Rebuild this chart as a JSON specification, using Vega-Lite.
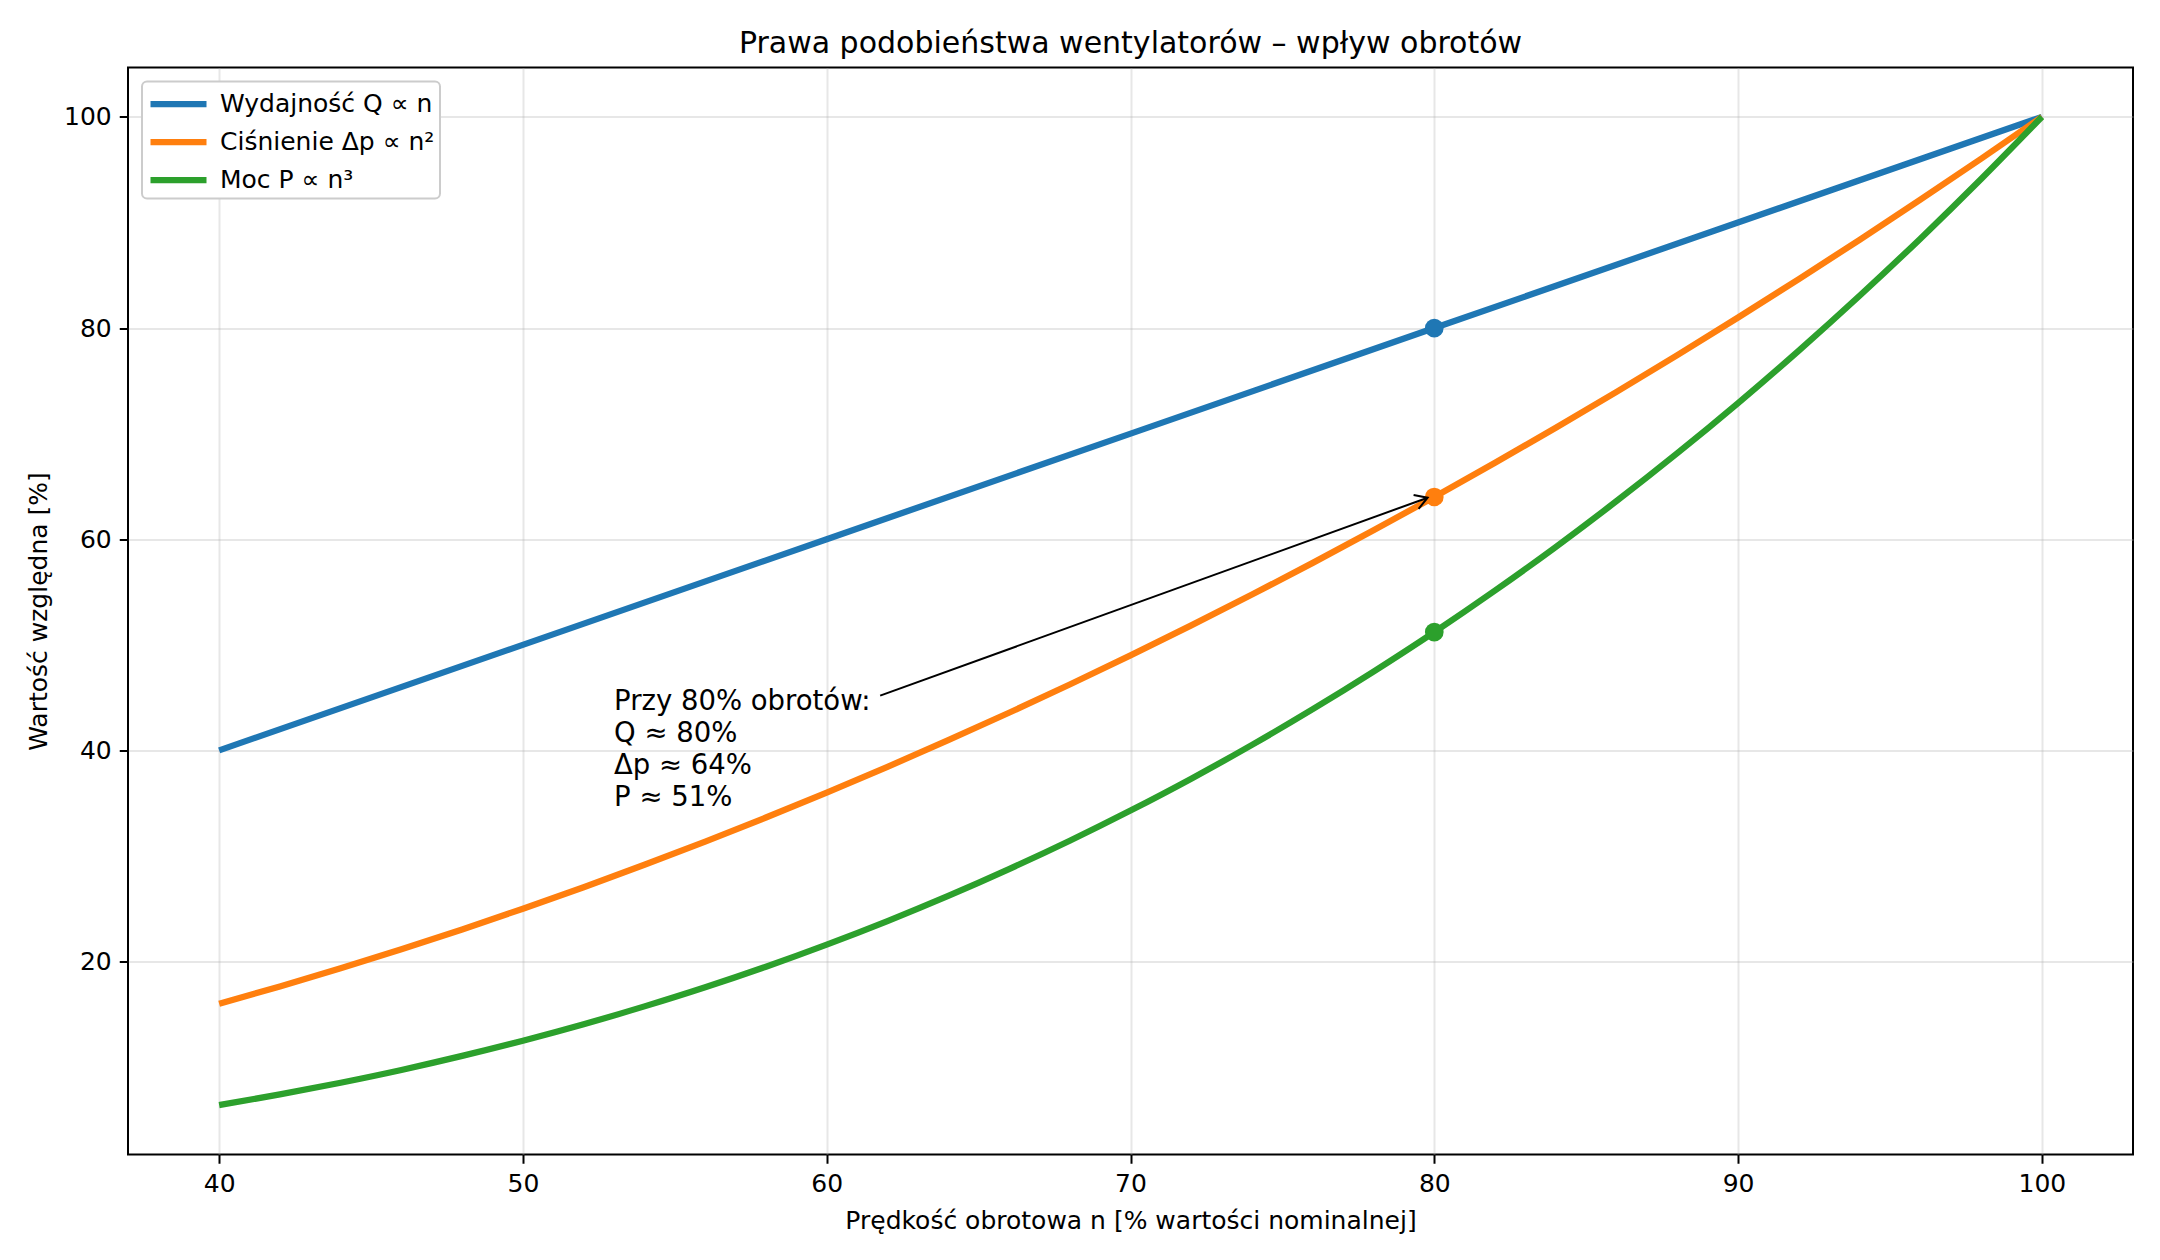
{
  "$schema": "https://vega.github.io/schema/vega-lite/v6.json",
  "width": 2005,
  "height": 1087,
  "autosize": "none",
  "padding": {"left": 128, "top": 67.5, "right": 27, "bottom": 105.5},
  "background": "white",
  "title": {
    "text": "Prawa podobieństwa wentylatorów – wpływ obrotów",
    "font": "DejaVu Sans",
    "fontSize": 30,
    "fontWeight": "normal",
    "color": "black",
    "anchor": "middle",
    "offset": 9
  },
  "config": {
    "view": {"stroke": "black", "strokeWidth": 2},
    "axis": {
      "domain": false,
      "grid": true,
      "gridColor": "#b0b0b0",
      "gridOpacity": 0.3,
      "gridWidth": 2,
      "tickColor": "black",
      "tickSize": 8.75,
      "tickWidth": 2,
      "labelFont": "DejaVu Sans",
      "labelFontSize": 25,
      "labelColor": "black",
      "labelPadding": 8,
      "titleFont": "DejaVu Sans",
      "titleFontSize": 25,
      "titleFontWeight": "normal",
      "titleColor": "black"
    },
    "legend": {
      "orient": "top-left",
      "offset": 14,
      "fillColor": "white",
      "strokeColor": "#cccccc",
      "strokeWidth": 2,
      "cornerRadius": 5,
      "padding": 5,
      "labelFont": "DejaVu Sans",
      "labelFontSize": 25,
      "labelColor": "black",
      "labelLimit": 0,
      "symbolType": "M-1,0H3",
      "symbolStrokeWidth": 6.25,
      "symbolSize": 784,
      "labelOffset": 38,
      "rowPadding": 7
    }
  },
  "datasets": {
    "curves": [
      {"n": 40, "series": "Wydajność Q ∝ n", "v": 40},
      {"n": 60, "series": "Wydajność Q ∝ n", "v": 60},
      {"n": 80, "series": "Wydajność Q ∝ n", "v": 80},
      {"n": 100, "series": "Wydajność Q ∝ n", "v": 100},
      {"n": 40, "series": "Ciśnienie Δp ∝ n²", "v": 16},
      {"n": 42, "series": "Ciśnienie Δp ∝ n²", "v": 17.64},
      {"n": 44, "series": "Ciśnienie Δp ∝ n²", "v": 19.36},
      {"n": 46, "series": "Ciśnienie Δp ∝ n²", "v": 21.16},
      {"n": 48, "series": "Ciśnienie Δp ∝ n²", "v": 23.04},
      {"n": 50, "series": "Ciśnienie Δp ∝ n²", "v": 25},
      {"n": 52, "series": "Ciśnienie Δp ∝ n²", "v": 27.04},
      {"n": 54, "series": "Ciśnienie Δp ∝ n²", "v": 29.16},
      {"n": 56, "series": "Ciśnienie Δp ∝ n²", "v": 31.36},
      {"n": 58, "series": "Ciśnienie Δp ∝ n²", "v": 33.64},
      {"n": 60, "series": "Ciśnienie Δp ∝ n²", "v": 36},
      {"n": 62, "series": "Ciśnienie Δp ∝ n²", "v": 38.44},
      {"n": 64, "series": "Ciśnienie Δp ∝ n²", "v": 40.96},
      {"n": 66, "series": "Ciśnienie Δp ∝ n²", "v": 43.56},
      {"n": 68, "series": "Ciśnienie Δp ∝ n²", "v": 46.24},
      {"n": 70, "series": "Ciśnienie Δp ∝ n²", "v": 49},
      {"n": 72, "series": "Ciśnienie Δp ∝ n²", "v": 51.84},
      {"n": 74, "series": "Ciśnienie Δp ∝ n²", "v": 54.76},
      {"n": 76, "series": "Ciśnienie Δp ∝ n²", "v": 57.76},
      {"n": 78, "series": "Ciśnienie Δp ∝ n²", "v": 60.84},
      {"n": 80, "series": "Ciśnienie Δp ∝ n²", "v": 64},
      {"n": 82, "series": "Ciśnienie Δp ∝ n²", "v": 67.24},
      {"n": 84, "series": "Ciśnienie Δp ∝ n²", "v": 70.56},
      {"n": 86, "series": "Ciśnienie Δp ∝ n²", "v": 73.96},
      {"n": 88, "series": "Ciśnienie Δp ∝ n²", "v": 77.44},
      {"n": 90, "series": "Ciśnienie Δp ∝ n²", "v": 81},
      {"n": 92, "series": "Ciśnienie Δp ∝ n²", "v": 84.64},
      {"n": 94, "series": "Ciśnienie Δp ∝ n²", "v": 88.36},
      {"n": 96, "series": "Ciśnienie Δp ∝ n²", "v": 92.16},
      {"n": 98, "series": "Ciśnienie Δp ∝ n²", "v": 96.04},
      {"n": 100, "series": "Ciśnienie Δp ∝ n²", "v": 100},
      {"n": 40, "series": "Moc P ∝ n³", "v": 6.4},
      {"n": 42, "series": "Moc P ∝ n³", "v": 7.41},
      {"n": 44, "series": "Moc P ∝ n³", "v": 8.52},
      {"n": 46, "series": "Moc P ∝ n³", "v": 9.73},
      {"n": 48, "series": "Moc P ∝ n³", "v": 11.06},
      {"n": 50, "series": "Moc P ∝ n³", "v": 12.5},
      {"n": 52, "series": "Moc P ∝ n³", "v": 14.06},
      {"n": 54, "series": "Moc P ∝ n³", "v": 15.75},
      {"n": 56, "series": "Moc P ∝ n³", "v": 17.56},
      {"n": 58, "series": "Moc P ∝ n³", "v": 19.51},
      {"n": 60, "series": "Moc P ∝ n³", "v": 21.6},
      {"n": 62, "series": "Moc P ∝ n³", "v": 23.83},
      {"n": 64, "series": "Moc P ∝ n³", "v": 26.21},
      {"n": 66, "series": "Moc P ∝ n³", "v": 28.75},
      {"n": 68, "series": "Moc P ∝ n³", "v": 31.44},
      {"n": 70, "series": "Moc P ∝ n³", "v": 34.3},
      {"n": 72, "series": "Moc P ∝ n³", "v": 37.32},
      {"n": 74, "series": "Moc P ∝ n³", "v": 40.52},
      {"n": 76, "series": "Moc P ∝ n³", "v": 43.9},
      {"n": 78, "series": "Moc P ∝ n³", "v": 47.46},
      {"n": 80, "series": "Moc P ∝ n³", "v": 51.2},
      {"n": 82, "series": "Moc P ∝ n³", "v": 55.14},
      {"n": 84, "series": "Moc P ∝ n³", "v": 59.27},
      {"n": 86, "series": "Moc P ∝ n³", "v": 63.61},
      {"n": 88, "series": "Moc P ∝ n³", "v": 68.15},
      {"n": 90, "series": "Moc P ∝ n³", "v": 72.9},
      {"n": 92, "series": "Moc P ∝ n³", "v": 77.87},
      {"n": 94, "series": "Moc P ∝ n³", "v": 83.06},
      {"n": 96, "series": "Moc P ∝ n³", "v": 88.47},
      {"n": 98, "series": "Moc P ∝ n³", "v": 94.12},
      {"n": 100, "series": "Moc P ∝ n³", "v": 100}
    ],
    "marks80": [
      {"n": 80, "series": "Wydajność Q ∝ n", "v": 80},
      {"n": 80, "series": "Ciśnienie Δp ∝ n²", "v": 64},
      {"n": 80, "series": "Moc P ∝ n³", "v": 51.2}
    ],
    "note": [
      {"x": 53, "y": 35, "x0": 61.76, "y0": 45.18, "x1": 79.78, "y1": 63.93,
       "label": "Przy 80% obrotów:\nQ ≈ 80%\nΔp ≈ 64%\nP ≈ 51%"}
    ]
  },
  "resolve": {"legend": {"color": "independent"}},
  "layer": [
    {
      "data": {"name": "curves"},
      "mark": {"type": "line", "strokeWidth": 6.25, "interpolate": "monotone", "clip": true},
      "encoding": {
        "x": {
          "field": "n", "type": "quantitative",
          "scale": {"domain": [37, 103], "nice": false, "zero": false},
          "axis": {"values": [40, 50, 60, 70, 80, 90, 100], "title": "Prędkość obrotowa n [% wartości nominalnej]", "titlePadding": 12}
        },
        "y": {
          "field": "v", "type": "quantitative",
          "scale": {"domain": [1.72, 104.68], "nice": false, "zero": false},
          "axis": {"values": [20, 40, 60, 80, 100], "title": "Wartość względna [%]", "titlePadding": 12}
        },
        "color": {
          "field": "series", "type": "nominal",
          "scale": {
            "domain": ["Wydajność Q ∝ n", "Ciśnienie Δp ∝ n²", "Moc P ∝ n³"],
            "range": ["#1f77b4", "#ff7f0e", "#2ca02c"]
          },
          "legend": {"title": null}
        },
        "order": {"field": "n"}
      }
    },
    {
      "data": {"name": "marks80"},
      "mark": {"type": "point", "shape": "circle", "filled": true, "size": 350, "opacity": 1},
      "encoding": {
        "x": {"field": "n", "type": "quantitative"},
        "y": {"field": "v", "type": "quantitative"},
        "color": {"field": "series", "type": "nominal", "legend": null}
      }
    },
    {
      "data": {"name": "note"},
      "mark": {"type": "rule", "color": "black", "strokeWidth": 2},
      "encoding": {
        "x": {"field": "x0", "type": "quantitative"},
        "y": {"field": "y0", "type": "quantitative"},
        "x2": {"field": "x1"},
        "y2": {"field": "y1"}
      }
    },
    {
      "data": {"name": "note"},
      "mark": {
        "type": "point",
        "shape": "M-1,-0.6L0,0L-1,0.6",
        "filled": false,
        "stroke": "black",
        "strokeWidth": 2,
        "opacity": 1,
        "size": 600,
        "angle": -19.9
      },
      "encoding": {
        "x": {"field": "x1", "type": "quantitative"},
        "y": {"field": "y1", "type": "quantitative"}
      }
    },
    {
      "data": {"name": "note"},
      "mark": {
        "type": "text",
        "align": "left",
        "baseline": "alphabetic",
        "font": "DejaVu Sans",
        "fontSize": 27.5,
        "lineHeight": 32,
        "lineBreak": "\n",
        "color": "black",
        "dy": -93
      },
      "encoding": {
        "x": {"field": "x", "type": "quantitative"},
        "y": {"field": "y", "type": "quantitative"},
        "text": {"field": "label"}
      }
    }
  ]
}
